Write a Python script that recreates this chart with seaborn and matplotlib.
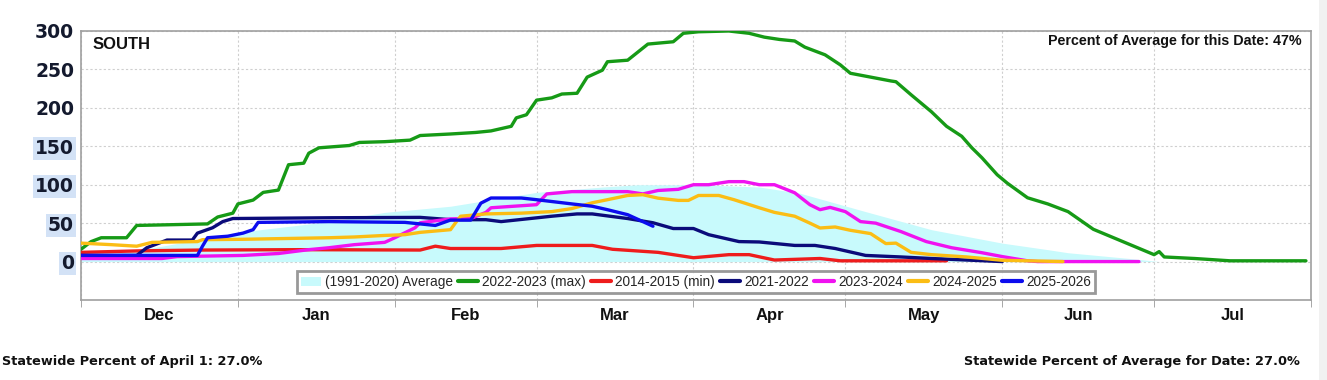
import numpy as np
import pandas as pd
import matplotlib
matplotlib.use('Agg')
import matplotlib.pyplot as plt
import seaborn as sns
from matplotlib.lines import Line2D
from matplotlib.patches import Patch, Rectangle

# x values are days counted from Dec 1, y values are percent of April 1 average
avg_day = [0, 16, 31, 49, 60, 73, 90, 103, 110, 122, 134, 142, 155, 168, 182, 191, 195, 208, 213]
avg_pct = [3, 20, 38, 52, 64, 72, 90, 97, 100, 100, 97, 89, 65, 41.5, 24, 15.5, 11.5, 3.5, 0]

max_day = [0, 2, 4, 9, 11, 25, 27, 30, 31, 34, 36, 39, 41, 44, 45, 47, 53, 55, 60, 65, 67, 73, 78,
           81, 85, 86, 88, 90, 93, 95, 98, 100, 103, 104, 108, 112, 117, 119, 122, 128, 132, 135,
           138, 141, 143, 147, 150, 152, 156, 160, 161, 164, 166, 168, 171, 174, 176, 178, 181,
           183, 187, 191, 195, 200, 204, 208, 212, 213, 214, 220, 227, 242]
max_pct = [16, 26, 31, 31, 47, 49, 58, 63, 75, 80, 90, 93, 126, 128, 141, 148, 151, 155, 156, 158,
           164, 166, 168, 170, 176, 187, 191, 210, 213, 218, 219, 240, 249, 260, 262, 283, 286, 297,
           299, 300, 297, 292, 289, 287, 279, 269, 256, 245, 240, 235, 234, 217, 206, 195, 176, 163,
           148, 135, 113, 102, 83, 75, 65, 42, 31, 20, 9, 13, 6, 4, 1, 1]

min_day = [0, 12, 24, 43, 67, 70, 73, 83, 90, 101, 105, 114, 121, 128, 132, 137, 146, 150, 171]
min_pct = [12, 14, 15, 15.5, 15, 20, 17, 17, 21, 21, 16, 12, 5, 9, 9, 2, 4, 1, 1]

s2122_day = [0, 11, 12, 13, 17, 22, 23, 26, 28, 30, 49, 67, 73, 80, 83, 93, 98, 101, 108, 113,
             117, 121, 124, 130, 134, 141, 145, 149, 155, 162, 168, 175, 182]
s2122_pct = [8, 8, 13, 18, 28, 28, 37, 44, 52, 56, 57, 57.5, 54.5, 54.5, 52, 59, 62, 62, 56, 50.5,
             43, 43, 35, 26, 25.5, 21, 21, 17, 8, 6, 4, 2, 0]

s2324_day = [0, 16, 19, 32, 39, 45, 49, 54, 60, 62, 66, 67, 73, 77, 80, 81, 90, 92, 97, 108, 111,
             114, 118, 121, 124, 128, 131, 134, 137, 141, 144, 146, 148, 151, 154, 157, 162, 167,
             172, 178, 182, 187, 189, 209]
s2324_pct = [4, 4, 6.5, 8, 10.5, 15.5, 18, 22, 25, 31, 44, 50.5, 55.5, 56, 64, 70, 74, 88, 91, 91,
             88, 92.5, 94, 100, 100, 104, 104, 100, 100, 89.5, 74, 67.5, 70.5, 65, 52, 50, 39, 26,
             18, 11.5, 6.5, 1, 0, 0]

s2425_day = [0, 6, 11, 14, 23, 24, 32, 49, 54, 60, 64, 67, 73, 74, 75, 80, 87, 93, 97, 101, 104,
             108, 111, 114, 118, 120, 122, 126, 129, 134, 137, 141, 144, 146, 149, 152, 156, 159,
             161, 164, 168, 175, 182, 194]
s2425_pct = [24, 22, 20, 25, 26, 28.5, 29, 31, 32, 34, 35, 38, 41.5, 50.5, 59, 62, 63, 65, 69, 76.5,
             80.5, 86, 87, 82.5, 79.6, 79.6, 86, 86, 80.5, 70, 64, 59, 50, 43.7, 45, 40.7, 36.4,
             23.4, 24, 12, 9, 6, 1.7, 0]

s2526_day = [0, 23, 24, 25, 29, 32, 34, 35, 49, 64, 70, 73, 77, 79, 81, 87, 90, 97, 101, 104, 108,
             111, 113]
s2526_pct = [8, 8, 20, 31, 33, 37, 41.5, 51, 52, 51, 47, 54, 54, 76, 82.7, 82.7, 80.5, 75, 72,
             67.5, 61, 52, 46]

seasons = ['2022-2023 (max)', '2014-2015 (min)', '2021-2022', '2023-2024', '2024-2025', '2025-2026']
season_colors = ['#169a16', '#ee1c1c', '#0b0b7a', '#f012f0', '#fbbd14', '#0c0cee']
month_names = ['Dec', 'Jan', 'Feb', 'Mar', 'Apr', 'May', 'Jun', 'Jul']
month_days = [31, 31, 28, 31, 30, 31, 30, 31]
y_ticks = [0, 50, 100, 150, 200, 250, 300]

day_lists = [max_day, min_day, s2122_day, s2324_day, s2425_day, s2526_day]
pct_lists = [max_pct, min_pct, s2122_pct, s2324_pct, s2425_pct, s2526_pct]
frames = []
for name, d, v in zip(seasons, day_lists, pct_lists):
    frames.append(pd.DataFrame({'day': d, 'pct': v, 'season': name}))
df = pd.concat(frames, ignore_index=True)

sns.set_style('white')
plt.rcParams['font.family'] = ['Liberation Sans', 'DejaVu Sans']

fig = plt.figure(figsize=(13.27, 3.80), dpi=100)
ax = fig.add_axes([81 / 1327, 1 - 300 / 380, 1230 / 1327, 269 / 380])

ax.fill_between(avg_day, 0, avg_pct, color='#c8fafc', linewidth=0, zorder=1)
sns.lineplot(data=df, x='day', y='pct', hue='season', hue_order=seasons,
             palette=dict(zip(seasons, season_colors)), estimator=None, sort=False,
             linewidth=2.4, legend=False, ax=ax, zorder=3)

# axes limits and ticks
bounds = np.concatenate([[0], np.cumsum(month_days)])
centers = (bounds[:-1] + bounds[1:]) / 2
ax.set_xlim(0, bounds[-1])
ax.set_ylim(-50, 300)
ax.set_xticks(centers)
ax.set_xticklabels(month_names, fontweight='bold', fontsize=12, color='#111111')
ax.set_xticks(bounds, minor=True)
ax.tick_params(axis='x', which='major', length=0, pad=6)
ax.tick_params(axis='x', which='minor', length=5, color='#999999', direction='out', bottom=True)
ax.set_yticks(y_ticks)
ax.set_yticklabels([str(t) for t in y_ticks])
ax.tick_params(axis='y', length=0, pad=5)
for lab, t in zip(ax.get_yticklabels(), y_ticks):
    lab.set_fontfamily('DejaVu Sans')
    lab.set_fontweight('bold')
    lab.set_fontsize(13.5)
    lab.set_color('#141a2e')
    if t <= 150:
        lab.set_bbox(dict(facecolor='#d3e2f6', edgecolor='none', pad=1.5))
ax.set_xlabel('')
ax.set_ylabel('')

ax.set_axisbelow(True)
ax.grid(axis='y', which='major', color='#cfcfcf', linestyle=(0, (2, 2)), linewidth=0.8)
ax.grid(axis='x', which='minor', color='#cfcfcf', linestyle=(0, (2, 2)), linewidth=0.8)
ax.grid(axis='x', which='major', visible=False)
for side in ['left', 'right', 'top', 'bottom']:
    ax.spines[side].set_color('#a0a0a0')
    ax.spines[side].set_linewidth(1.2)

ax.text(0.009, 0.977, 'SOUTH', transform=ax.transAxes, fontsize=12, fontweight='bold',
        color='#111111', va='top', ha='left')
ax.text(0.992, 0.99, 'Percent of Average for this Date: 47%', transform=ax.transAxes,
        fontsize=10.3, fontweight='bold', color='#111111', va='top', ha='right')

handles = [Patch(facecolor='#c8fafc', edgecolor='none', label='(1991-2020) Average')]
for name, c in zip(seasons, season_colors):
    handles.append(Line2D([0], [0], color=c, linewidth=3, label=name))
leg = ax.legend(handles=handles, loc='center', bbox_to_anchor=(0.5, 0.067), ncol=7,
                fontsize=9.8, frameon=True, fancybox=False, handlelength=1.5,
                handletextpad=0.3, columnspacing=0.35, borderpad=0.3, handleheight=0.6)
leg.get_frame().set_edgecolor('#808080')
leg.get_frame().set_linewidth(2)
leg.set_zorder(5)

fig.text(2 / 1327, 1 - 361 / 380, 'Statewide Percent of April 1: 27.0%', fontsize=9.3,
         fontfamily='DejaVu Sans', fontweight='bold', color='#111111', ha='left', va='center')
fig.text(1300 / 1327, 1 - 361 / 380, 'Statewide Percent of Average for Date: 27.0%',
         fontsize=9.3, fontfamily='DejaVu Sans', fontweight='bold', color='#111111',
         ha='right', va='center')

# light strip at the right edge of the screenshot
fig.patches.append(Rectangle((1319 / 1327, 0), 8 / 1327, 1, transform=fig.transFigure,
                             facecolor='#f1f1f1', edgecolor='none', zorder=0))

fig.savefig('out.png', dpi=100)
